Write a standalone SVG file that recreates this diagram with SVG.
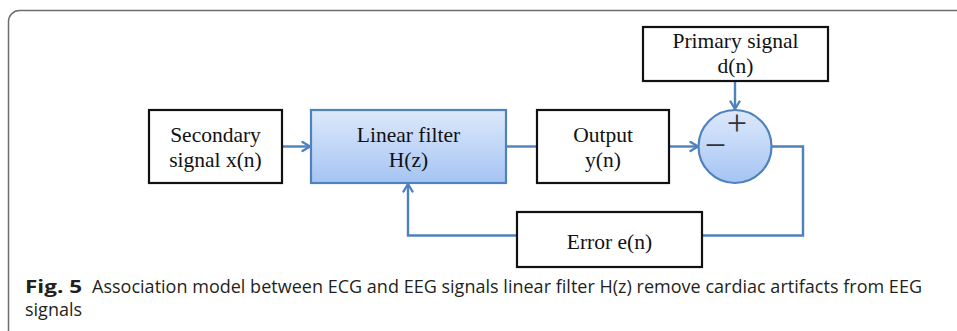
<svg xmlns="http://www.w3.org/2000/svg" width="957" height="331" viewBox="0 0 957 331">
<defs>
<linearGradient id="blueGrad" x1="0" y1="0" x2="0" y2="1">
<stop offset="0" stop-color="#dde9fb"/>
<stop offset="1" stop-color="#a5c4f3"/>
</linearGradient>
<marker id="arr" viewBox="0 0 12 12" refX="10.5" refY="6" markerWidth="12" markerHeight="12" markerUnits="userSpaceOnUse" orient="auto">
<path d="M3,1.5 L10.5,6 L3,10.5" fill="none" stroke="#4f81bd" stroke-width="2.4" stroke-linecap="round" stroke-linejoin="round"/>
</marker>
<style>
.box{fill:#ffffff;stroke:#111111;stroke-width:2.2}
.bbox{fill:url(#blueGrad);stroke:#4f81bd;stroke-width:2.2}
.lbl{font-family:"Liberation Serif","Times New Roman",serif;font-size:21.5px;fill:#111111;text-anchor:middle}
.sym{font-family:"Liberation Serif","Times New Roman",serif;fill:#333333;text-anchor:middle}
.con{fill:none;stroke:#4f81bd;stroke-width:2.4}
.cap{font-family:"Open Sans","Noto Sans",sans-serif;font-size:18px;fill:#231f20}
</style>
</defs>
<rect x="8.5" y="10.5" width="1000" height="400" rx="11" ry="11" fill="none" stroke="#6d6d6d" stroke-width="1.5"/>
<g id="connectors">
<line class="con" x1="282" y1="146.5" x2="310" y2="146.5" marker-end="url(#arr)"/>
<line class="con" x1="506" y1="146.5" x2="537" y2="146.5"/>
<line class="con" x1="669" y1="146.5" x2="698" y2="146.5" marker-end="url(#arr)"/>
<line class="con" x1="735" y1="81" x2="735" y2="109" marker-end="url(#arr)"/>
<polyline class="con" points="771.5,146.5 803,146.5 803,235.5 702,235.5"/>
<polyline class="con" points="517,235.5 408,235.5 408,184" marker-end="url(#arr)"/>
</g>
<g id="secondary">
<rect class="box" x="149" y="110" width="133" height="73"/>
<text class="lbl" x="215.5" y="142">Secondary</text>
<text class="lbl" x="215.5" y="167">signal x(n)</text>
</g>
<g id="linear-filter">
<rect class="bbox" x="311" y="110" width="195" height="73"/>
<text class="lbl" x="408.5" y="142">Linear filter</text>
<text class="lbl" x="408.5" y="167">H(z)</text>
</g>
<g id="output">
<rect class="box" x="537" y="110" width="132" height="73"/>
<text class="lbl" x="603" y="142">Output</text>
<text class="lbl" x="603" y="167">y(n)</text>
</g>
<g id="primary">
<rect class="box" x="643" y="27" width="185" height="54"/>
<text class="lbl" x="735.5" y="48">Primary signal</text>
<text class="lbl" x="735.5" y="73">d(n)</text>
</g>
<g id="summer">
<circle cx="735" cy="146.5" r="36.5" fill="url(#blueGrad)" stroke="#4f81bd" stroke-width="2.2"/>
<text class="sym" x="737" y="134.5" font-size="36">+</text>
<text class="sym" x="715.5" y="158" font-size="38">−</text>
</g>
<g id="error">
<rect class="box" x="517" y="212" width="185" height="55"/>
<text class="lbl" x="609.5" y="249">Error e(n)</text>
</g>
<g id="caption">
<text class="cap" x="25" y="293" font-weight="bold" textLength="57" lengthAdjust="spacingAndGlyphs">Fig. 5</text>
<text class="cap" x="92" y="293" textLength="830">Association model between ECG and EEG signals linear filter H(z) remove cardiac artifacts from EEG</text>
<text class="cap" x="25" y="316">signals</text>
</g>
</svg>
